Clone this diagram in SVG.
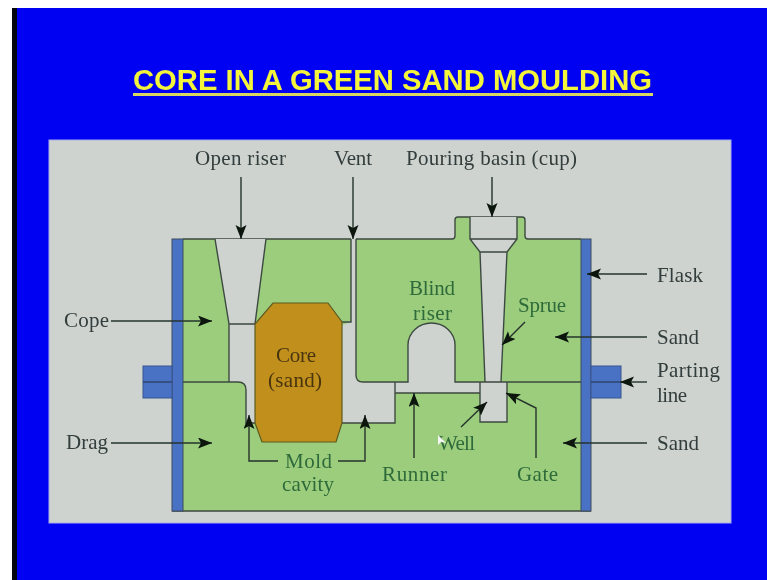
<svg xmlns="http://www.w3.org/2000/svg" width="767" height="580" viewBox="0 0 767 580">
<style>
.t{font-family:"Liberation Serif",serif;font-size:21px;lengthAdjust:spacing}
.d{fill:#333d3c}.g{fill:#2f6b3a}.c{fill:#4a3510}
.o{fill:none;stroke:#3c4a40;stroke-width:1.4}
.a{fill:none;stroke:#26332c;stroke-width:1.4;marker-end:url(#ah)}
</style>
<defs>
<marker id="ah" markerUnits="userSpaceOnUse" markerWidth="16" markerHeight="12" refX="14" refY="5.500" orient="auto"><path d="M0 0L14 5.500L0 11L3 5.500Z" fill="#0c1610"/></marker>
<filter id="soft" x="-2%" y="-2%" width="104%" height="104%"><feGaussianBlur stdDeviation="0.45"/></filter>
</defs>
<rect width="767" height="580" fill="#fff"/>
<rect x="12" y="8" width="755" height="572" fill="#0000f2"/>
<rect x="12" y="8" width="5" height="572" fill="#05050f"/>
<g filter="url(#soft)">
<g id="title"><text x="133" y="90" font-family="Liberation Sans,Arial,sans-serif" font-size="29" font-weight="700" fill="#f4f43a" textLength="519" lengthAdjust="spacingAndGlyphs">CORE IN A GREEN SAND MOULDING</text><rect x="133" y="93" width="520" height="3" fill="#d8d860"/></g>
<rect id="panel" x="49" y="140" width="682" height="383" fill="#ced3cf" stroke="#a8aeea"/>
<g id="mould">
<path d="M172 239H455V217H525V239H591V511H172Z" fill="#9bcd7c"/>
<path class="o" d="M183 239H351M356 239H452Q455 239 455 236V220Q455 217 458 217H522Q525 217 525 220V236Q525 239 528 239H581M172 511H591"/>
<path id="cavity" d="M215 239H266L255 324V382H395V423H342V325L351 322V239H356V375Q356 382 363 382H408V345A23.500 22 0 0 1 455 345V382H485L480 252L470 239V217H517V239L507 252L501 382H507V422H480V393H395V382H246V423H255V382H229V324Z" fill="#ced3cf"/>
<path d="M229 324H255V423H246V390Q246 382 238 382H229Z" fill="#ced3cf"/>
<path class="o" d="M215 239L229 324V382M266 239L255 324M229 324H255M183 382H238Q246 382 246 390V423H255M342 322H351V239M356 239V375Q356 382 363 382H408V345A23.500 22 0 0 1 455 345V382H581M395 382V423H342M395 393H480M480 382V422H507V382"/>
<path class="o" d="M470 217V239L480 252L485 382M517 217V239L507 252L501 382M470 239H517M480 252H507"/>
</g>
<g id="core"><path d="M273 303H328L342 322V423L336 442H262L255 423V324Z" fill="#c08f1c" stroke="#5d5a20" stroke-width="1.2"/><text class="t c" x="276" y="362" textLength="40">Core</text><text class="t c" x="268" y="387" textLength="54">(sand)</text></g>
<g id="flask">
<rect x="172" y="239" width="11" height="272" fill="#4a72c4" stroke="#3c4a60"/>
<rect x="581" y="239" width="10" height="272" fill="#4a72c4" stroke="#3c4a60"/>
<rect x="143" y="366" width="29" height="32" fill="#4a72c4" stroke="#34558f"/><path d="M143 382H172" stroke="#2a3a5a" stroke-width="1.2"/>
<rect x="591" y="366" width="30" height="32" fill="#4a72c4" stroke="#34558f"/><path d="M591 382H621" stroke="#2a3a5a" stroke-width="1.2"/>
</g>
<g id="connectors">
<path class="a" d="M241 177V239"/><path class="a" d="M353 177V239"/><path class="a" d="M492 177V217"/>
<path class="a" d="M111 321H212"/><path class="a" d="M111 443H212"/>
<path class="a" d="M647 274H587"/><path class="a" d="M647 337H555"/><path class="a" d="M647 382H620"/><path class="a" d="M647 443H563"/>
<path class="a" d="M525 322L502 345"/><path class="a" d="M461 427L487 402"/><path class="a" d="M536 458V408L506 393"/><path class="a" d="M414 458V393"/>
<path class="a" d="M278 461H249V415"/><path class="a" d="M338 461H365V415"/>
</g>
<g id="labels">
<text class="t d" x="195" y="165" textLength="91">Open riser</text><text class="t d" x="334" y="165" textLength="38">Vent</text><text class="t d" x="406" y="165" textLength="171">Pouring basin (cup)</text>
<text class="t d" x="64" y="327" textLength="45">Cope</text><text class="t d" x="66" y="449" textLength="42">Drag</text>
<text class="t d" x="657" y="282" textLength="46">Flask</text><text class="t d" x="657" y="344" textLength="42">Sand</text><text class="t d" x="657" y="377" textLength="63">Parting</text><text class="t d" x="657" y="402" textLength="30">line</text><text class="t d" x="657" y="450" textLength="42">Sand</text>
<text class="t g" x="409" y="295" textLength="46">Blind</text><text class="t g" x="413" y="320" textLength="39">riser</text><text class="t g" x="518" y="312" textLength="48">Sprue</text>
<text class="t g" x="285" y="468" textLength="47">Mold</text><text class="t g" x="282" y="491" textLength="52">cavity</text><text class="t g" x="382" y="481" textLength="65">Runner</text><text class="t g" x="438" y="450" textLength="37">Well</text><text class="t g" x="517" y="481" textLength="41">Gate</text>
</g>
<path id="cursor" d="M438 435V445L441 442L446 443Z" fill="#f4f6f4"/>
</g>
</svg>
